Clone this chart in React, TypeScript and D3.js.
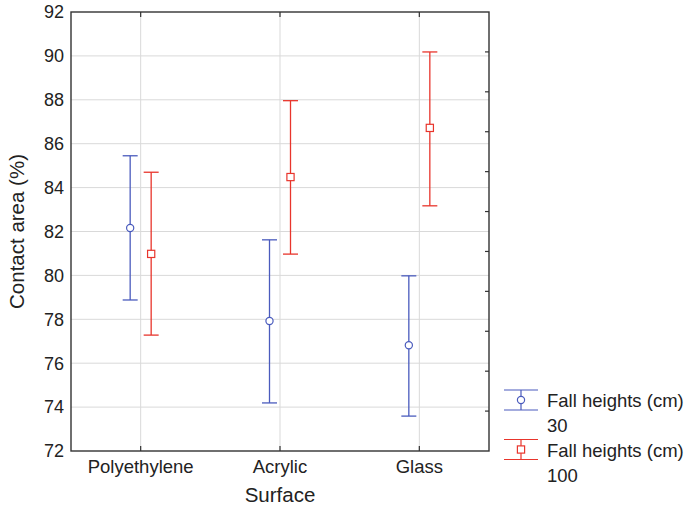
import React from "react";
import * as d3 from "d3";

// Surfaces on the x axis
const surfaces = ["Polyethylene", "Acrylic", "Glass"];
// Fall heights (cm) series
const heights = ["30", "100"];
// Means and interval bounds for each series, in surface order
const mean30 = [82.16, 77.92, 76.82];
const lower30 = [78.88, 74.19, 73.59];
const upper30 = [85.45, 81.62, 79.98];
const mean100 = [80.98, 84.48, 86.72];
const lower100 = [77.28, 80.97, 83.17];
const upper100 = [84.7, 87.96, 90.18];
// Y axis tick values
const yTicks = [72, 74, 76, 78, 80, 82, 84, 86, 88, 90, 92];

const W = 685;
const H = 508;
const margin = { left: 71, right: 196, top: 12, bottom: 57 };
const FONT = "'Liberation Sans', Arial, Helvetica, sans-serif";
const BLUE = "#4a5bbd";
const RED = "#e8352c";
const GRID = "#d9d9d9";
const AXIS = "#333";

export default function App() {
  const x0 = margin.left;
  const x1 = W - margin.right;
  const y0 = H - margin.bottom;
  const y1 = margin.top;

  const x = d3.scaleBand<string>().domain(surfaces).range([x0, x1]).paddingInner(0).paddingOuter(0);
  const dodge = d3.scalePoint<string>().domain(heights).range([-10.5, 10.5]);
  const y = d3.scaleLinear().domain([72, 92]).range([y0, y1]);
  // secondary right-edge scale with 11 equal divisions
  const rScale = d3.scaleLinear().domain([0, 11]).range([y0, y1]);
  const rTicks = d3.range(1, 11);

  const series = [
    { key: heights[0], mean: mean30, lo: lower30, hi: upper30, color: BLUE, shape: "circle" },
    { key: heights[1], mean: mean100, lo: lower100, hi: upper100, color: RED, shape: "square" },
  ];

  const cx = (s: string) => (x(s) as number) + x.bandwidth() / 2;
  const capHalf = 7.5;

  const marker = (shape: string, px: number, py: number, color: string) =>
    shape === "circle" ? (
      <circle cx={px} cy={py} r={3.6} fill="#fff" stroke={color} strokeWidth={1.2} />
    ) : (
      <rect x={px - 3.6} y={py - 3.6} width={7.2} height={7.2} fill="#fff" stroke={color} strokeWidth={1.2} />
    );

  return (
    <svg width={W} height={H} style={{ position: "absolute", left: 0, top: 0, background: "#fff" }} fontFamily={FONT}>
      {/* grid */}
      {yTicks.slice(1, -1).map((t) => (
        <line key={"gy" + t} x1={x0} x2={x1} y1={y(t)} y2={y(t)} stroke={GRID} strokeWidth={1} />
      ))}
      {surfaces.map((s) => (
        <line key={"gx" + s} x1={cx(s)} x2={cx(s)} y1={y1} y2={y0} stroke={GRID} strokeWidth={1} />
      ))}

      {/* error bars */}
      {series.map((sr) =>
        surfaces.map((s, i) => {
          const px = cx(s) + (dodge(sr.key) as number);
          return (
            <g key={sr.key + s}>
              <line x1={px} x2={px} y1={y(sr.hi[i])} y2={y(sr.lo[i])} stroke={sr.color} strokeWidth={1.3} />
              <line x1={px - capHalf} x2={px + capHalf} y1={y(sr.hi[i])} y2={y(sr.hi[i])} stroke={sr.color} strokeWidth={1.3} />
              <line x1={px - capHalf} x2={px + capHalf} y1={y(sr.lo[i])} y2={y(sr.lo[i])} stroke={sr.color} strokeWidth={1.3} />
              {marker(sr.shape, px, y(sr.mean[i]), sr.color)}
            </g>
          );
        })
      )}

      {/* frame */}
      <rect x={x0} y={y1} width={x1 - x0} height={y0 - y1} fill="none" stroke={AXIS} strokeWidth={1.4} />
      {surfaces.map((s) => (
        <g key={"tk" + s}>
          <line x1={cx(s)} x2={cx(s)} y1={y1} y2={y1 + 5} stroke={AXIS} strokeWidth={1.2} />
          <line x1={cx(s)} x2={cx(s)} y1={y0} y2={y0 - 5} stroke={AXIS} strokeWidth={1.2} />
        </g>
      ))}
      {rTicks.map((t) => (
        <line key={"rt" + t} x1={x1} x2={x1 - 4} y1={rScale(t)} y2={rScale(t)} stroke={AXIS} strokeWidth={1.2} />
      ))}

      {/* y tick labels */}
      {yTicks.map((t) => (
        <text key={"yl" + t} x={x0 - 7} y={y(t)} dy="0.35em" textAnchor="end" fontSize={18} fill="#222">
          {t}
        </text>
      ))}
      {/* x tick labels */}
      {surfaces.map((s) => (
        <text key={"xl" + s} x={cx(s)} y={y0 + 22} textAnchor="middle" fontSize={18.5} fill="#222">
          {s}
        </text>
      ))}

      {/* axis titles */}
      <text x={(x0 + x1) / 2} y={502} textAnchor="middle" fontSize={20.5} fill="#222">
        Surface
      </text>
      <text transform={`translate(24, ${(y0 + y1) / 2}) rotate(-90)`} textAnchor="middle" fontSize={20.5} fill="#222">
        Contact area (%)
      </text>

      {/* legend */}
      {series.map((sr, i) => {
        const ly = 400 + i * 49.5;
        const lx = 521;
        return (
          <g key={"lg" + sr.key}>
            <line x1={lx} x2={lx} y1={ly - 10} y2={ly + 10} stroke={sr.color} strokeWidth={1.2} />
            <line x1={lx - 17} x2={lx + 17} y1={ly - 10} y2={ly - 10} stroke={sr.color} strokeWidth={1.2} />
            <line x1={lx - 17} x2={lx + 17} y1={ly + 10} y2={ly + 10} stroke={sr.color} strokeWidth={1.2} />
            {marker(sr.shape, lx, ly, sr.color)}
            <text x={547} y={ly + 7} fontSize={18.5} fill="#222">
              Fall heights (cm)
            </text>
            <text x={547} y={ly + 32} fontSize={18.5} fill="#222">
              {sr.key}
            </text>
          </g>
        );
      })}
    </svg>
  );
}
